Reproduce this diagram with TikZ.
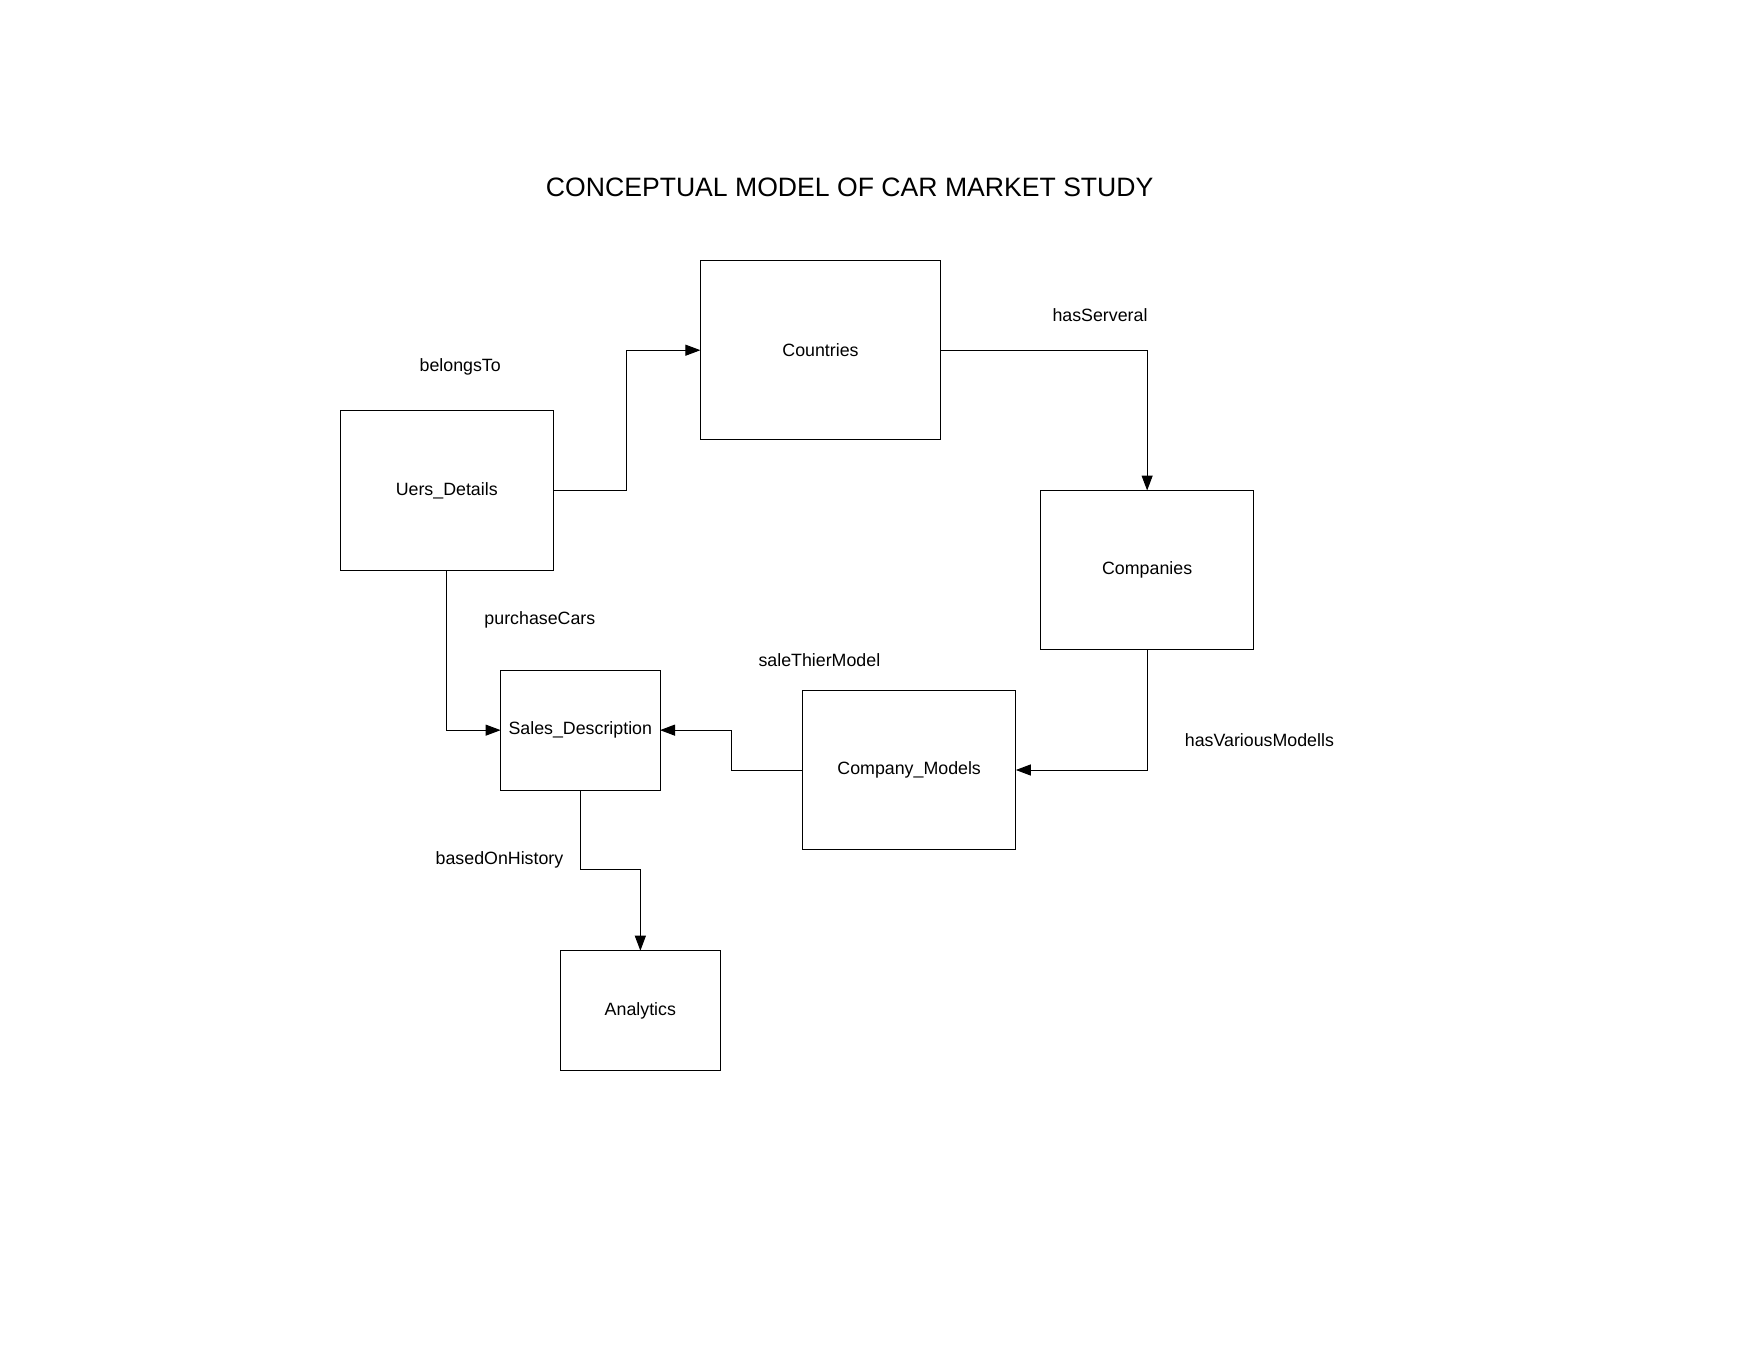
\documentclass[tikz,border=0pt]{standalone}
\usepackage{fontspec}
\setmainfont{Liberation Sans}
\usetikzlibrary{arrows.meta}
\newcommand{\dpx}{0.5612pt}
\begin{document}
\begin{tikzpicture}[x=0.5612pt,y=-0.5612pt,
  box/.style={draw,line width=0.5pt,inner sep=0pt,outer sep=0pt,font=\fontsize{8.9}{10}\selectfont},
  lbl/.style={inner sep=0pt,font=\fontsize{8.9}{10}\selectfont},
  arr/.style={line width=0.5pt,-{Triangle[length=7.5pt,width=5.5pt]}}]
\useasboundingbox[fill=white] (0,0) rectangle (1568,1211.6);
\node[inner sep=0pt,font=\fontsize{13.3}{15}\selectfont] (title) at (757,166.5) {CONCEPTUAL MODEL OF CAR MARKET STUDY};
\node[box,minimum width=214*\dpx,minimum height=160*\dpx] (countries) at (731,312) {Countries};
\node[box,minimum width=190*\dpx,minimum height=142*\dpx] (uers) at (398,437) {Uers\_Details};
\node[box,minimum width=190*\dpx,minimum height=142*\dpx] (companies) at (1022,508) {Companies};
\node[box,minimum width=142*\dpx,minimum height=107*\dpx] (sales) at (517,650.5) {Sales\_Description};
\node[box,minimum width=190*\dpx,minimum height=142*\dpx] (cmodels) at (810,686) {Company\_Models};
\node[box,minimum width=143*\dpx,minimum height=107*\dpx] (analytics) at (570.5,900.5) {Analytics};
\node[lbl] (l1) at (410,326.5) {belongsTo};
\node[lbl] (l2) at (980,281) {hasServeral};
\node[lbl] (l3) at (481,552.5) {purchaseCars};
\node[lbl] (l4) at (730,588) {saleThierModel};
\node[lbl] (l5) at (1122,659) {hasVariousModells};
\node[lbl] (l6) at (445,766.5) {basedOnHistory};
\draw[arr] (uers.east) -- ++(65,0) |- (countries.west);
\draw[arr] (countries.east) -| (companies.north);
\draw[arr] (uers.south) |- (sales.west);
\draw[arr] (companies.south) |- (cmodels.east);
\draw[arr] (cmodels.west) -- ++(-63,0) |- (sales.east);
\draw[arr] (sales.south) -- ++(0,71) -| (analytics.north);
\end{tikzpicture}
\end{document}
